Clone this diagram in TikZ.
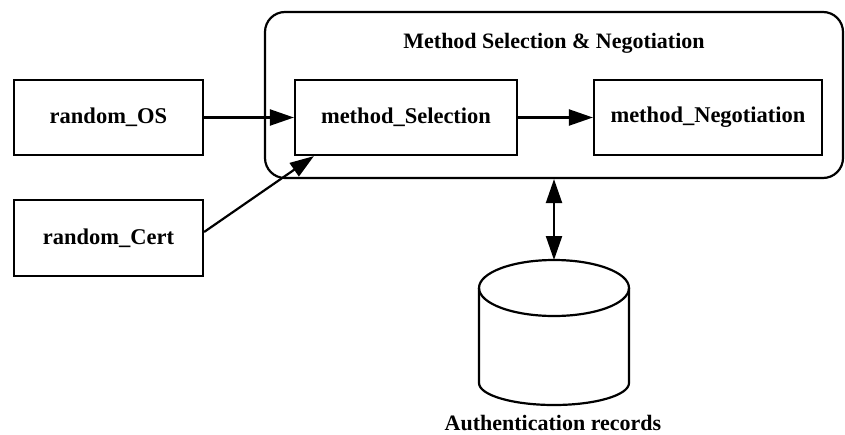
\documentclass[tikz,border=0pt]{standalone}
\usepackage{fontspec}
\setmainfont{Liberation Serif}
\usetikzlibrary{arrows.meta,calc}
\tikzset{
  box/.style={draw, line width=2.2pt, minimum height=75pt, inner sep=0pt, font=\fontsize{22.5}{26}\selectfont\bfseries},
  conn/.style={line width=2.2pt, -{Triangle[length=24pt,width=16pt]}},
  lbl/.style={inner sep=0pt, font=\fontsize{22}{26}\selectfont\bfseries}
}
\begin{document}
\begin{tikzpicture}[x=1pt,y=-1pt]
\useasboundingbox (0,0) rectangle (845,434);
\node[draw, line width=2.2pt, rounded corners=20pt, minimum width=578pt, minimum height=166pt, inner sep=0pt] (cont) at (554,95) {};
\node[lbl] (title) at (554,43) {Method Selection \& Negotiation};
\node[box, minimum width=189pt] (os) at (108.5,117.5) {random\_OS};
\node[box, minimum width=189pt, minimum height=76pt] (cert) at (108.5,238) {random\_Cert};
\node[box, minimum width=222pt] (sel) at (406,117.5) {method\_Selection};
\node[box, minimum width=228pt] (neg) at (708,117.5) {method\_Negotiation};
% cylinder
\draw[line width=2.2pt] (479,288) -- (479,383) arc[start angle=180, end angle=0, x radius=75, y radius=22] -- (629,288);
\draw[line width=2.2pt] (554,288) ellipse [x radius=75, y radius=28];
\coordinate (dbtop) at (554,260);
\node[lbl] (dblabel) at (553,423) {Authentication records};
\draw[conn] (os.east) -- (sel.west);
\draw[conn] (sel.east) -- (neg.west);
\draw[conn] ($(cert.east)+(0,-6)$) -- ($(sel.south west)+(20,0)$);
\draw[line width=2.2pt, {Triangle[length=24pt,width=16pt]}-{Triangle[length=24pt,width=16pt]}] (cont.south) -- (dbtop);
\end{tikzpicture}
\end{document}
